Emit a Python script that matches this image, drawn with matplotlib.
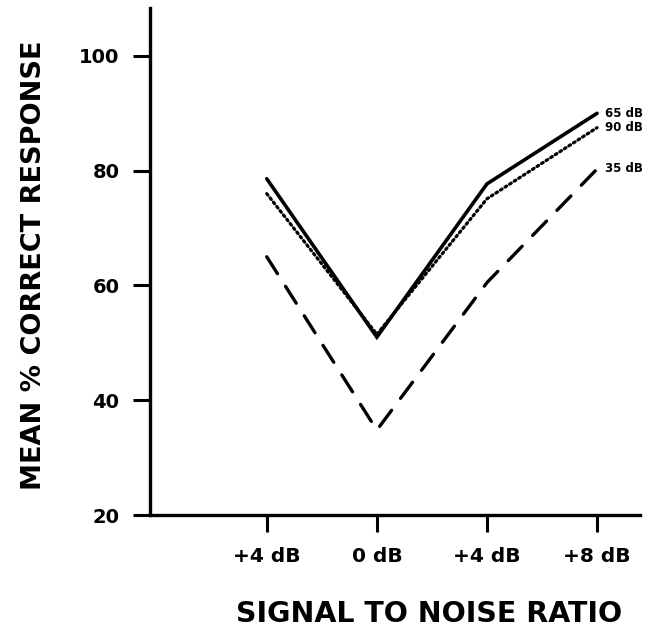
import matplotlib
matplotlib.use("Agg")
import matplotlib.pyplot as plt

categories = ["+4 dB", "0 dB", "+4 dB", "+8 dB"]
series_names = ["65 dB", "90 dB", "35 dB"]
values_65 = [78.6, 51.0, 77.7, 90.0]
values_90 = [76.0, 51.5, 75.1, 87.5]
values_35 = [65.0, 34.8, 60.5, 80.3]
y_ticks = [20, 40, 60, 80, 100]

fig = plt.figure(figsize=(6.5, 6.37), dpi=100)
ax = fig.add_axes([0.2308, 0.1915, 0.7538, 0.7955])

x = list(range(len(categories)))
ax.plot(x, values_65, color="black", lw=2.6, ls="-", solid_capstyle="round", solid_joinstyle="miter")
ax.plot(x, values_90, color="black", lw=2.3, ls=(0, (0.6, 1.1)), dash_capstyle="round")
ax.plot(x, values_35, color="black", lw=2.4, ls=(0, (6, 4.5)), dash_capstyle="round")

for name, vals in zip(series_names, [values_65, values_90, values_35]):
    ax.annotate(name, xy=(x[-1], vals[-1]), xytext=(6, 0), textcoords="offset points",
                ha="left", va="center", fontsize=8.5, fontweight="bold")

ax.set_xlim(-1.06, 3.39)
ax.set_ylim(20, 108.3)
ax.set_xticks(x)
ax.set_xticklabels(categories, fontsize=14.5, fontweight="bold")
ax.set_yticks(y_ticks)
ax.set_yticklabels([str(v) for v in y_ticks], fontsize=14, fontweight="bold")
ax.tick_params(axis="both", direction="out", width=2.2, color="black", length=12)
ax.tick_params(axis="y", pad=10)
ax.tick_params(axis="x", pad=11)

for side in ["top", "right"]:
    ax.spines[side].set_visible(False)
for side in ["left", "bottom"]:
    ax.spines[side].set_linewidth(2.4)

ax.set_ylabel("MEAN % CORRECT RESPONSE", fontsize=19.5, fontweight="bold", va="center")
ax.yaxis.set_label_coords(-0.237, 0.493)
ax.set_xlabel("SIGNAL TO NOISE RATIO", fontsize=20.5, fontweight="bold", va="center")
ax.xaxis.set_label_coords(0.569, -0.195)

fig.savefig("out.png", dpi=100)
